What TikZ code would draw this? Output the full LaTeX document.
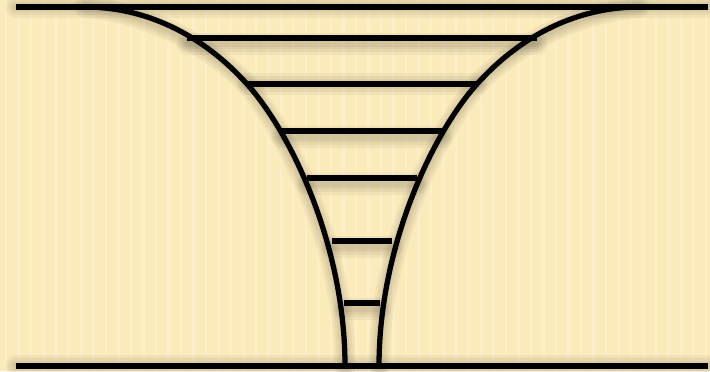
\documentclass[tikz,border=0pt]{standalone}
\usetikzlibrary{positioning}
\definecolor{paper}{RGB}{252,235,186}

\tikzset{
  wall/.style={line width=1.5pt, line cap=butt},
  shade/.style={line width=#1, black, opacity=0.045, line cap=round}
}

% 漏斗的全部线条 (阴影和正体共用)
\newcommand{\funnellines}[1]{%
  \draw[#1] (TL) -- (TR);
  \draw[#1] (BL) -- (BR);
  \draw[#1] (LT) .. controls (145,7) and (202,34) .. (L2)
                 .. controls (292,134) and (345,247) .. (LB);
  \draw[#1] (RT) .. controls (579,7) and (522,34) .. (R2)
                 .. controls (432,134) and (379,247) .. (RB);
  \foreach \ya/\xa/\xb in {38/187/537, 131/282/442, 178/307/417, 241/332/392, 303/344/380}
    \draw[#1] (\xa,\ya) -- (\xb,\ya);
  \draw[#1] (L2) -- (R2);
}

\begin{document}
\begin{tikzpicture}[x=0.1mm, y=-0.1mm]
  % 1. 背景
  \fill[paper] (0,0) rectangle (710,371);
  \useasboundingbox (0,0) rectangle (710,371);
  \foreach \i in {6,18.5,...,710}
    \draw[white, opacity=0.18, line width=0.6pt] (\i,0) -- (\i,371);

  % 2. 端点
  \coordinate (TL) at (16,7);
  \coordinate (TR) at (708,7);
  \coordinate (BL) at (16,366);
  \coordinate (BR) at (708,366);
  \coordinate (LT) at (85,7);
  \coordinate (RT) at (639,7);
  \coordinate (L2) at (247,84);
  \coordinate (R2) at (477,84);
  \coordinate (LB) at (345,366);
  \coordinate (RB) at (379,366);

  % 3. 阴影 (几层叠出模糊)
  \begin{scope}[shift={(0,6)}]
    \foreach \w in {1.5pt,3pt,4.5pt,6pt}
      {\funnellines{shade=\w}}
  \end{scope}

  % 4. 线条
  \funnellines{wall}
\end{tikzpicture}
\end{document}
